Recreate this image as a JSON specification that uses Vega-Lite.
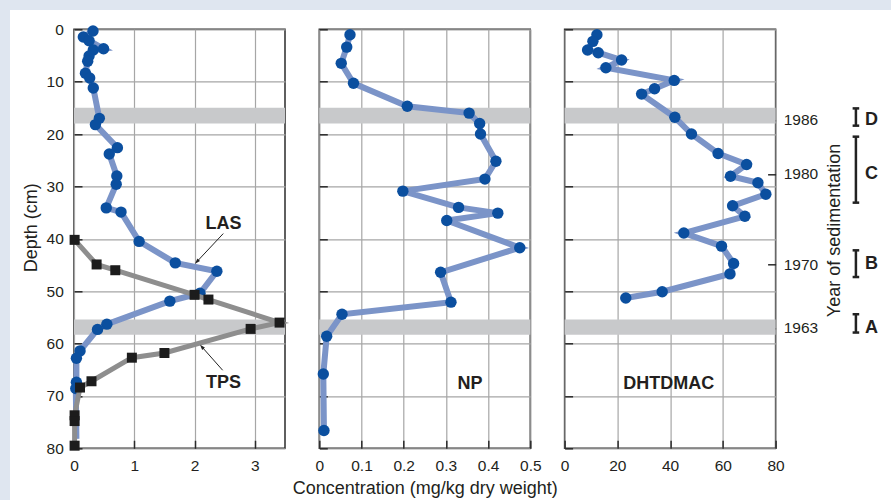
{
  "$schema": "https://vega.github.io/schema/vega-lite/v6.json",
  "background": "white",
  "autosize": {"type": "none"},
  "padding": {"left": 74, "top": 29.3, "right": 817, "bottom": 470.7},
  "bounds": "flush",
  "spacing": 34.3,
  "config": {
    "font": "Liberation Sans",
    "view": {"stroke": "#2b2b2b", "strokeWidth": 1.5},
    "axis": {
      "domain": false, "grid": true, "gridColor": "#a6a6a6", "gridWidth": 1.2,
      "ticks": true, "tickColor": "#2b2b2b", "tickWidth": 1.5, "tickSize": -8,
      "labelFont": "Liberation Sans", "labelFontSize": 15.5, "labelColor": "#231f20",
      "labelOverlap": false, "labelBound": false, "labelFlush": false,
      "titleFont": "Liberation Sans", "titleFontSize": 18, "titleFontWeight": "normal", "titleColor": "#231f20"
    }
  },
  "datasets": {
    "bands": [{"top": 15.0, "bottom": 18.0}, {"top": 55.4, "bottom": 58.3}],
    "las": [
      {"depth": 0.33, "value": 0.315}, {"depth": 1.47, "value": 0.155}, {"depth": 2.18, "value": 0.25},
      {"depth": 3.7, "value": 0.49}, {"depth": 3.96, "value": 0.32}, {"depth": 5.1, "value": 0.25},
      {"depth": 6.1, "value": 0.227}, {"depth": 8.4, "value": 0.19}, {"depth": 9.3, "value": 0.26},
      {"depth": 11.2, "value": 0.32}, {"depth": 17.0, "value": 0.42}, {"depth": 18.2, "value": 0.355},
      {"depth": 22.6, "value": 0.72}, {"depth": 23.8, "value": 0.585}, {"depth": 28.0, "value": 0.71},
      {"depth": 29.6, "value": 0.70}, {"depth": 34.1, "value": 0.535}, {"depth": 34.9, "value": 0.78},
      {"depth": 40.5, "value": 1.08}, {"depth": 44.6, "value": 1.68}, {"depth": 46.2, "value": 2.37},
      {"depth": 50.4, "value": 2.09}, {"depth": 51.9, "value": 1.59}, {"depth": 56.3, "value": 0.545},
      {"depth": 57.3, "value": 0.39}, {"depth": 61.4, "value": 0.10}, {"depth": 62.8, "value": 0.04},
      {"depth": 67.4, "value": 0.04}, {"depth": 68.6, "value": 0.03}, {"depth": 78.2, "value": 0.04}
    ],
    "tps": [
      {"depth": 40.2, "value": 0.01}, {"depth": 44.9, "value": 0.375}, {"depth": 46.0, "value": 0.685},
      {"depth": 50.7, "value": 2.0}, {"depth": 51.6, "value": 2.23}, {"depth": 56.0, "value": 3.41},
      {"depth": 57.2, "value": 2.93}, {"depth": 61.8, "value": 1.50}, {"depth": 62.7, "value": 0.96},
      {"depth": 67.2, "value": 0.29}, {"depth": 68.4, "value": 0.10}, {"depth": 73.7, "value": 0.01},
      {"depth": 74.8, "value": 0.01}, {"depth": 79.5, "value": 0.01}
    ],
    "np": [
      {"depth": 1.03, "value": 0.0727}, {"depth": 3.4, "value": 0.065}, {"depth": 6.5, "value": 0.052},
      {"depth": 10.3, "value": 0.081}, {"depth": 14.7, "value": 0.2085}, {"depth": 16.0, "value": 0.355},
      {"depth": 18.0, "value": 0.38}, {"depth": 20.0, "value": 0.382}, {"depth": 25.2, "value": 0.4185},
      {"depth": 28.6, "value": 0.3925}, {"depth": 30.9, "value": 0.198}, {"depth": 34.0, "value": 0.33},
      {"depth": 35.1, "value": 0.423}, {"depth": 36.5, "value": 0.302}, {"depth": 41.7, "value": 0.475},
      {"depth": 46.4, "value": 0.2875}, {"depth": 52.1, "value": 0.312}, {"depth": 54.4, "value": 0.0538},
      {"depth": 58.6, "value": 0.0175}, {"depth": 65.8, "value": 0.0095}, {"depth": 76.6, "value": 0.011}
    ],
    "dht": [
      {"depth": 1.03, "value": 12.25}, {"depth": 2.3, "value": 10.73}, {"depth": 3.96, "value": 8.72},
      {"depth": 4.47, "value": 12.75}, {"depth": 5.87, "value": 21.6}, {"depth": 7.34, "value": 15.66},
      {"depth": 9.76, "value": 41.56}, {"depth": 11.36, "value": 34.1}, {"depth": 12.37, "value": 29.2},
      {"depth": 16.8, "value": 41.8}, {"depth": 20.0, "value": 48.1}, {"depth": 23.7, "value": 58.2},
      {"depth": 25.8, "value": 69.0}, {"depth": 28.05, "value": 62.9}, {"depth": 29.3, "value": 73.3},
      {"depth": 31.5, "value": 76.3}, {"depth": 33.7, "value": 63.7}, {"depth": 35.7, "value": 68.35},
      {"depth": 38.9, "value": 45.2}, {"depth": 41.4, "value": 59.5}, {"depth": 44.7, "value": 64.07},
      {"depth": 46.7, "value": 62.7}, {"depth": 50.1, "value": 37.0}, {"depth": 51.3, "value": 23.2}
    ],
    "years": [
      {"year": 1986, "depth": 17.3, "zone": "D", "top": 15.1, "bottom": 18.4},
      {"year": 1980, "depth": 27.6, "zone": "C", "top": 20.5, "bottom": 33.1},
      {"year": 1970, "depth": 44.9, "zone": "B", "top": 42.2, "bottom": 47.3},
      {"year": 1963, "depth": 57.0, "zone": "A", "top": 54.4, "bottom": 57.9}
    ]
  },
  "hconcat": [
    {
      "width": 211, "height": 419,
      "layer": [
        {
          "data": {"name": "bands"},
          "mark": {"type": "rect", "fill": "#c8c9cb"},
          "encoding": {
            "y": {"field": "top", "type": "quantitative", "scale": {"domain": [0, 80], "reverse": true, "nice": false, "zero": false},
              "axis": {"values": [0, 10, 20, 30, 40, 50, 60, 70, 80], "title": "Depth (cm)", "labelPadding": 18.7,
                "titleX": -38, "titleY": 198, "titleAngle": 270, "titleAlign": "center", "titleBaseline": "alphabetic"}},
            "y2": {"field": "bottom"}
          }
        },
        {
          "data": {"name": "las"},
          "mark": {"type": "line", "stroke": "#7b94c8", "strokeWidth": 6},
          "encoding": {
            "x": {"field": "value", "type": "quantitative", "scale": {"domain": [0, 3.5], "nice": false, "zero": false},
              "axis": {"values": [0, 1, 2, 3], "title": null, "labelPadding": 18, "format": "d"}},
            "y": {"field": "depth", "type": "quantitative", "scale": {"domain": [0, 80], "reverse": true, "nice": false, "zero": false}},
            "order": {"field": "depth"}
          }
        },
        {
          "data": {"name": "las"},
          "transform": [{"filter": "datum.depth < 75"}],
          "mark": {"type": "point", "shape": "circle", "filled": true, "fill": "#0b4f9f", "opacity": 1, "size": 130},
          "encoding": {
            "x": {"field": "value", "type": "quantitative", "scale": {"domain": [0, 3.5], "nice": false, "zero": false}},
            "y": {"field": "depth", "type": "quantitative", "scale": {"domain": [0, 80], "reverse": true, "nice": false, "zero": false}}
          }
        },
        {
          "data": {"name": "tps"},
          "mark": {"type": "line", "stroke": "#8e8e8e", "strokeWidth": 5},
          "encoding": {
            "x": {"field": "value", "type": "quantitative", "scale": {"domain": [0, 3.5], "nice": false, "zero": false}},
            "y": {"field": "depth", "type": "quantitative", "scale": {"domain": [0, 80], "reverse": true, "nice": false, "zero": false}},
            "order": {"field": "depth"}
          }
        },
        {
          "data": {"name": "tps"},
          "mark": {"type": "point", "shape": "square", "filled": true, "fill": "#1c1c1c", "opacity": 1, "size": 100},
          "encoding": {
            "x": {"field": "value", "type": "quantitative", "scale": {"domain": [0, 3.5], "nice": false, "zero": false}},
            "y": {"field": "depth", "type": "quantitative", "scale": {"domain": [0, 80], "reverse": true, "nice": false, "zero": false}}
          }
        },
        {
          "data": {"values": [{}]},
          "mark": {"type": "rule", "stroke": "#222222", "strokeWidth": 1},
          "encoding": {
            "x": {"datum": 2.476, "type": "quantitative", "scale": {"domain": [0, 3.5], "nice": false, "zero": false}},
            "x2": {"datum": 2.041},
            "y": {"datum": 39.0, "type": "quantitative", "scale": {"domain": [0, 80], "reverse": true, "nice": false, "zero": false}},
            "y2": {"datum": 44.34}
          }
        },
        {
          "data": {"values": [{}]},
          "mark": {"type": "point", "shape": "M0,-1L0.6,0.8L-0.6,0.8Z", "filled": true, "fill": "#222222", "opacity": 1, "size": 36, "angle": 223},
          "encoding": {
            "x": {"datum": 2.041, "type": "quantitative", "scale": {"domain": [0, 3.5], "nice": false, "zero": false}},
            "y": {"datum": 44.34, "type": "quantitative", "scale": {"domain": [0, 80], "reverse": true, "nice": false, "zero": false}}
          }
        },
        {
          "data": {"values": [{}]},
          "mark": {"type": "rule", "stroke": "#222222", "strokeWidth": 1},
          "encoding": {
            "x": {"datum": 2.466, "type": "quantitative", "scale": {"domain": [0, 3.5], "nice": false, "zero": false}},
            "x2": {"datum": 2.123},
            "y": {"datum": 65.1, "type": "quantitative", "scale": {"domain": [0, 80], "reverse": true, "nice": false, "zero": false}},
            "y2": {"datum": 60.65}
          }
        },
        {
          "data": {"values": [{}]},
          "mark": {"type": "point", "shape": "M0,-1L0.6,0.8L-0.6,0.8Z", "filled": true, "fill": "#222222", "opacity": 1, "size": 36, "angle": 319},
          "encoding": {
            "x": {"datum": 2.123, "type": "quantitative", "scale": {"domain": [0, 3.5], "nice": false, "zero": false}},
            "y": {"datum": 60.65, "type": "quantitative", "scale": {"domain": [0, 80], "reverse": true, "nice": false, "zero": false}}
          }
        },
        {
          "data": {"values": [{}]},
          "mark": {"type": "text", "font": "Liberation Sans", "fontWeight": "bold", "fontSize": 18, "fill": "#231f20", "align": "center", "baseline": "middle"},
          "encoding": {
            "x": {"datum": 2.48, "type": "quantitative", "scale": {"domain": [0, 3.5], "nice": false, "zero": false}},
            "y": {"datum": 37.2, "type": "quantitative", "scale": {"domain": [0, 80], "reverse": true, "nice": false, "zero": false}},
            "text": {"value": "LAS"}
          }
        },
        {
          "data": {"values": [{}]},
          "mark": {"type": "text", "font": "Liberation Sans", "fontWeight": "bold", "fontSize": 18, "fill": "#231f20", "align": "center", "baseline": "middle"},
          "encoding": {
            "x": {"datum": 2.48, "type": "quantitative", "scale": {"domain": [0, 3.5], "nice": false, "zero": false}},
            "y": {"datum": 67.6, "type": "quantitative", "scale": {"domain": [0, 80], "reverse": true, "nice": false, "zero": false}},
            "text": {"value": "TPS"}
          }
        },
        {
          "data": {"values": [{}]},
          "mark": {"type": "rect", "fill": "#dfe6f0"},
          "encoding": {
            "x": {"datum": -1.2274, "type": "quantitative", "scale": {"domain": [0, 3.5], "nice": false, "zero": false}},
            "x2": {"datum": 13.56},
            "y": {"datum": -5.6, "type": "quantitative", "scale": {"domain": [0, 80], "reverse": true, "nice": false, "zero": false}},
            "y2": {"datum": -3.685}
          }
        },
        {
          "data": {"values": [{}]},
          "mark": {"type": "rect", "fill": "#dfe6f0"},
          "encoding": {
            "x": {"datum": -1.2274, "type": "quantitative", "scale": {"domain": [0, 3.5], "nice": false, "zero": false}},
            "x2": {"datum": -1.0616},
            "y": {"datum": -5.6, "type": "quantitative", "scale": {"domain": [0, 80], "reverse": true, "nice": false, "zero": false}},
            "y2": {"datum": 89.9}
          }
        }
      ]
    },
    {
      "width": 211, "height": 419,
      "layer": [
        {
          "data": {"name": "bands"},
          "mark": {"type": "rect", "fill": "#c8c9cb"},
          "encoding": {
            "y": {"field": "top", "type": "quantitative", "scale": {"domain": [0, 80], "reverse": true, "nice": false, "zero": false},
              "axis": {"values": [0, 10, 20, 30, 40, 50, 60, 70, 80], "labels": false, "title": null}},
            "y2": {"field": "bottom"}
          }
        },
        {
          "data": {"name": "np"},
          "mark": {"type": "line", "stroke": "#7b94c8", "strokeWidth": 6},
          "encoding": {
            "x": {"field": "value", "type": "quantitative", "scale": {"domain": [0, 0.5], "nice": false, "zero": false},
              "axis": {"values": [0, 0.1, 0.2, 0.3, 0.4, 0.5], "title": "Concentration (mg/kg dry weight)", "labelPadding": 18, "format": "~g",
                "titleX": 105.5, "titleY": 45, "titleAlign": "center", "titleBaseline": "alphabetic"}},
            "y": {"field": "depth", "type": "quantitative", "scale": {"domain": [0, 80], "reverse": true, "nice": false, "zero": false}},
            "order": {"field": "depth"}
          }
        },
        {
          "data": {"name": "np"},
          "mark": {"type": "point", "shape": "circle", "filled": true, "fill": "#0b4f9f", "opacity": 1, "size": 130},
          "encoding": {
            "x": {"field": "value", "type": "quantitative", "scale": {"domain": [0, 0.5], "nice": false, "zero": false}},
            "y": {"field": "depth", "type": "quantitative", "scale": {"domain": [0, 80], "reverse": true, "nice": false, "zero": false}}
          }
        },
        {
          "data": {"values": [{}]},
          "mark": {"type": "text", "font": "Liberation Sans", "fontWeight": "bold", "fontSize": 18, "fill": "#231f20", "align": "center", "baseline": "middle"},
          "encoding": {
            "x": {"datum": 0.357, "type": "quantitative", "scale": {"domain": [0, 0.5], "nice": false, "zero": false}},
            "y": {"datum": 67.7, "type": "quantitative", "scale": {"domain": [0, 80], "reverse": true, "nice": false, "zero": false}},
            "text": {"value": "NP"}
          }
        }
      ]
    },
    {
      "width": 211, "height": 419,
      "resolve": {"scale": {"y": "independent"}, "axis": {"y": "independent"}},
      "layer": [
        {
          "layer": [
            {
              "data": {"name": "bands"},
              "mark": {"type": "rect", "fill": "#c8c9cb"},
              "encoding": {
                "y": {"field": "top", "type": "quantitative", "scale": {"domain": [0, 80], "reverse": true, "nice": false, "zero": false},
                  "axis": {"values": [0, 10, 20, 30, 40, 50, 60, 70, 80], "labels": false, "title": null}},
                "y2": {"field": "bottom"}
              }
            },
            {
              "data": {"name": "dht"},
              "mark": {"type": "line", "stroke": "#7b94c8", "strokeWidth": 6},
              "encoding": {
                "x": {"field": "value", "type": "quantitative", "scale": {"domain": [0, 80], "nice": false, "zero": false},
                  "axis": {"values": [0, 20, 40, 60, 80], "title": null, "labelPadding": 18, "format": "d"}},
                "y": {"field": "depth", "type": "quantitative", "scale": {"domain": [0, 80], "reverse": true, "nice": false, "zero": false}},
                "order": {"field": "depth"}
              }
            },
            {
              "data": {"name": "dht"},
              "mark": {"type": "point", "shape": "circle", "filled": true, "fill": "#0b4f9f", "opacity": 1, "size": 130},
              "encoding": {
                "x": {"field": "value", "type": "quantitative", "scale": {"domain": [0, 80], "nice": false, "zero": false}},
                "y": {"field": "depth", "type": "quantitative", "scale": {"domain": [0, 80], "reverse": true, "nice": false, "zero": false}}
              }
            },
            {
              "data": {"values": [{}]},
              "mark": {"type": "text", "font": "Liberation Sans", "fontWeight": "bold", "fontSize": 18, "fill": "#231f20", "align": "center", "baseline": "middle"},
              "encoding": {
                "x": {"datum": 39.5, "type": "quantitative", "scale": {"domain": [0, 80], "nice": false, "zero": false}},
                "y": {"datum": 67.7, "type": "quantitative", "scale": {"domain": [0, 80], "reverse": true, "nice": false, "zero": false}},
                "text": {"value": "DHTDMAC"}
              }
            }
          ]
        },
        {
          "data": {"name": "years"},
          "layer": [
            {
              "mark": {"type": "text", "font": "Liberation Sans", "fontWeight": "bold", "fontSize": 18, "fill": "#231f20", "align": "left", "baseline": "middle"},
              "encoding": {
                "x": {"datum": 113.86, "type": "quantitative", "scale": {"domain": [0, 80], "nice": false, "zero": false}},
                "y": {"field": "depth", "type": "quantitative", "scale": {"domain": [0, 80], "reverse": true, "nice": false, "zero": false},
                  "axis": {"orient": "right", "values": [17.3, 27.6, 44.9, 57], "grid": false, "labelPadding": 15.6,
                    "labelExpr": "datum.value < 20 ? '1986' : datum.value < 30 ? '1980' : datum.value < 50 ? '1970' : '1963'",
                    "title": "Year of sedimentation", "titleX": 63.8, "titleY": 200.7, "titleAngle": 270, "titleAlign": "center", "titleBaseline": "alphabetic"}},
                "text": {"field": "zone"}
              }
            },
            {
              "mark": {"type": "rule", "stroke": "#222222", "strokeWidth": 2.5},
              "encoding": {
                "x": {"datum": 110.45, "type": "quantitative", "scale": {"domain": [0, 80], "nice": false, "zero": false}},
                "y": {"field": "top", "type": "quantitative", "scale": {"domain": [0, 80], "reverse": true, "nice": false, "zero": false}},
                "y2": {"field": "bottom"}
              }
            },
            {
              "mark": {"type": "rule", "stroke": "#222222", "strokeWidth": 2.5},
              "encoding": {
                "x": {"datum": 109.2, "type": "quantitative", "scale": {"domain": [0, 80], "nice": false, "zero": false}},
                "x2": {"datum": 111.7},
                "y": {"field": "top", "type": "quantitative", "scale": {"domain": [0, 80], "reverse": true, "nice": false, "zero": false}}
              }
            },
            {
              "mark": {"type": "rule", "stroke": "#222222", "strokeWidth": 2.5},
              "encoding": {
                "x": {"datum": 109.2, "type": "quantitative", "scale": {"domain": [0, 80], "nice": false, "zero": false}},
                "x2": {"datum": 111.7},
                "y": {"field": "bottom", "type": "quantitative", "scale": {"domain": [0, 80], "reverse": true, "nice": false, "zero": false}}
              }
            }
          ]
        }
      ]
    }
  ]
}
